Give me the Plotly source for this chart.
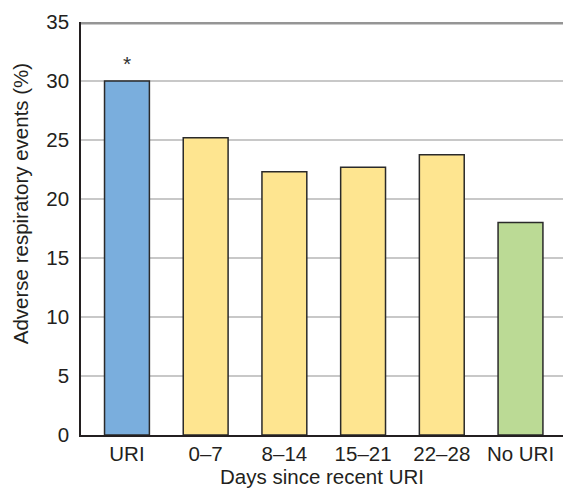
import plotly.graph_objects as go

categories = ["URI", "0–7", "8–14", "15–21", "22–28", "No URI"]
values = [30.0, 25.2, 22.3, 22.7, 23.75, 18.0]
colors = ["#7aaedd", "#fee590", "#fee590", "#fee590", "#fee590", "#bbda95"]
y_ticks = [0, 5, 10, 15, 20, 25, 30, 35]
y_title = "Adverse respiratory events (%)"
x_title = "Days since recent URI"
significance_label = "*"
significance_cat = "URI"
significance_y = 31.5

FONT = "Liberation Sans, Arial, sans-serif"
TXT = "#231f20"
FS = 20.5

fig = go.Figure(
    go.Bar(
        x=categories,
        y=values,
        width=0.57,
        marker=dict(color=colors, line=dict(color="#2a2a2a", width=1.5)),
        hoverinfo="x+y",
    )
)

fig.add_shape(type="line", xref="paper", x0=0, x1=1, yref="y", y0=35, y1=35,
              line=dict(color="#959595", width=5), layer="above")

fig.add_annotation(x=significance_cat, y=significance_y, text=significance_label,
                   showarrow=False, font=dict(family=FONT, size=21, color="#333"))

# y-axis title (placed slightly above the plot's vertical centre, as in the reference)
fig.add_annotation(xref="paper", yref="paper", x=-0.1255, y=0.56,
                   xanchor="center", yanchor="middle", textangle=-90,
                   text=y_title, showarrow=False,
                   font=dict(family=FONT, size=FS, color=TXT))

fig.update_layout(
    width=563, height=490,
    margin=dict(l=81, r=0, t=22, b=55, autoexpand=False),
    plot_bgcolor="white", paper_bgcolor="white",
    font=dict(family=FONT, size=FS, color=TXT),
    showlegend=False,
    bargap=0.43,
    xaxis=dict(
        type="category",
        range=[-0.584, 5.54],
        automargin=False,
        showline=True, linecolor="#231f20", linewidth=1.5,
        showgrid=False, ticks="",
        tickfont=dict(size=FS, color=TXT),
        title=dict(text=x_title, font=dict(size=FS, color=TXT), standoff=4),
    ),
    yaxis=dict(
        range=[0, 35],
        tickvals=y_ticks,
        automargin=False,
        showline=True, linecolor="#231f20", linewidth=1.5,
        showgrid=True, gridcolor="#c8c8c8", gridwidth=1.5,
        zeroline=False, ticks="",
        ticklabelstandoff=6,
        tickfont=dict(size=FS, color=TXT),
    ),
)

fig.write_html(
    "out.html",
    config={"displayModeBar": False},
    post_script="document.body.style.margin='0';document.body.style.overflow='hidden';",
)
